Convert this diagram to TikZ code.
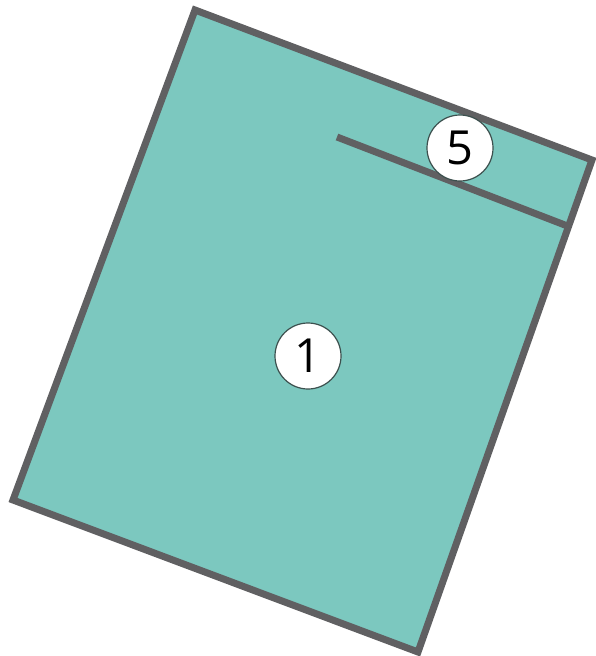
\documentclass[tikz,border=0pt]{standalone}
\usepackage{fontspec}
\setmainfont{Open Sans}
\usepackage{tikz}
\usetikzlibrary{calc}
\definecolor{panelfill}{RGB}{124, 200, 191}
\definecolor{panelline}{RGB}{96, 96, 98}
\definecolor{tagline}{RGB}{60, 80, 78}
\tikzset{
	tag/.style={circle, draw=tagline, line width=1.2pt, fill=white, minimum size=66pt, inner sep=0pt, font=\fontsize{47}{47}\selectfont}
}

\begin{document}
\begin{tikzpicture}[x=1pt, y=-1pt]
		\useasboundingbox (0,0) rectangle (595,656);
		\coordinate (tl) at (195,10);
		\coordinate (tr) at (592,160);
		\coordinate (br) at (418,652);
		\coordinate (bl) at (13,500);

		\fill[panelfill] (tl) -- (tr) -- (br) -- (bl) -- cycle;
		\draw[panelline, line width=7pt] (tl) -- (tr) -- (br) -- (bl) -- cycle;

		\coordinate (cutstart) at (337,137);
		\coordinate (cutend) at ($(tr)!0.135!(br)$);
		\draw[panelline, line width=7pt] (cutstart) -- (cutend);

		\node[tag] (five) at (460,148) {5};
		\node[tag] (one) at (308,356) {1};
	\end{tikzpicture}
\end{document}
